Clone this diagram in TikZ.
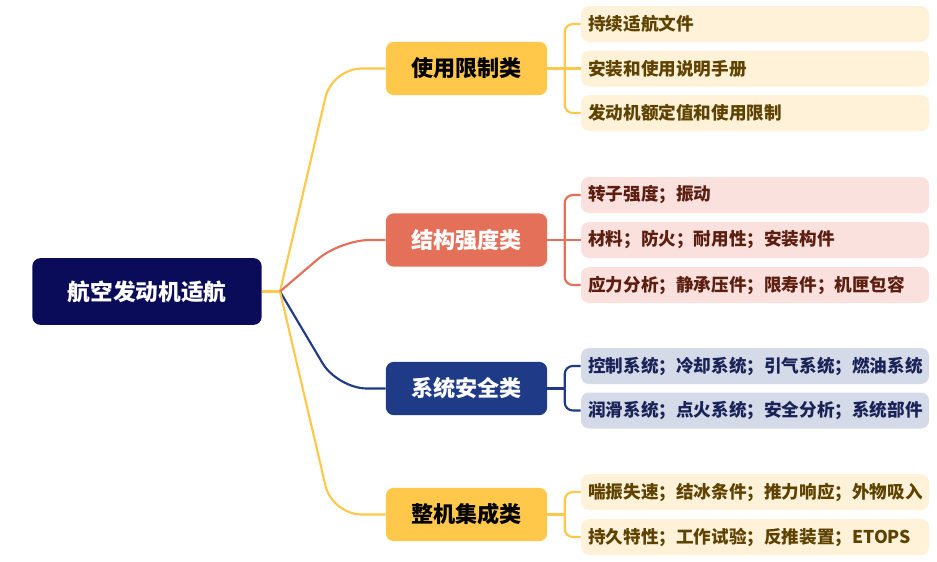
\documentclass[tikz,border=0pt]{standalone}
\usepackage{fontspec}
\setmainfont{Noto Sans CJK SC}
\definecolor{rootblue}{HTML}{0A0C5A}
\definecolor{catyellow}{HTML}{FFC84A}
\definecolor{catred}{HTML}{E5705A}
\definecolor{catblue}{HTML}{1F3B88}
\definecolor{leafyellow}{HTML}{FFF2D9}
\definecolor{leafred}{HTML}{FAE1DD}
\definecolor{leafblue}{HTML}{D5DAE8}
\definecolor{txtyellow}{HTML}{5E4200}
\definecolor{txtred}{HTML}{5C1E10}
\definecolor{txtblue}{HTML}{1A2358}

\tikzset{
  rootbox/.style={fill=rootblue, text=white, rounded corners=6pt,
    minimum width=172pt, minimum height=50pt,
    font=\bfseries\fontsize{17}{20}\selectfont},
  catbox/.style={rounded corners=6pt, minimum width=121pt, minimum height=40pt,
    font=\bfseries\fontsize{16.6}{20}\selectfont},
  leafbox/.style={rounded corners=6pt, minimum height=27pt, text width=250pt,
    align=left, inner xsep=5.5pt, font=\bfseries\fontsize{13.2}{16}\selectfont},
  link/.style={line width=1.6pt},
}

\begin{document}
\begin{tikzpicture}[x=0.75pt,y=-0.75pt,line join=round]
  \useasboundingbox (0,0) rectangle (937,561);
  % 根节点
  \node[rootbox] (root) at (147,291.5) {航空发动机适航};
  \coordinate (hub) at (280,291.5);
  % 四个分类
  \node[catbox,fill=catyellow,text=black] (b1) at (466.5,68.5) {使用限制类};
  \node[catbox,fill=catred,text=white] (b2) at (466.5,240) {结构强度类};
  \node[catbox,fill=catblue,text=white] (b3) at (466.5,388.5) {系统安全类};
  \node[catbox,fill=catyellow,text=black] (b4) at (466.5,514.5) {整机集成类};
  % 使用限制类的条目
  \node[leafbox,fill=leafyellow,text=txtyellow] (l11) at (755,24) {持续适航文件};
  \node[leafbox,fill=leafyellow,text=txtyellow] (l12) at (755,68.5) {安装和使用说明手册};
  \node[leafbox,fill=leafyellow,text=txtyellow] (l13) at (755,113) {发动机额定值和使用限制};
  % 结构强度类的条目
  \node[leafbox,fill=leafred,text=txtred] (l21) at (755,195) {转子强度；振动};
  \node[leafbox,fill=leafred,text=txtred] (l22) at (755,240) {材料；防火；耐用性；安装构件};
  \node[leafbox,fill=leafred,text=txtred] (l23) at (755,285) {应力分析；静承压件；限寿件；机匣包容};
  % 系统安全类的条目
  \node[leafbox,fill=leafblue,text=txtblue] (l31) at (755,366) {控制系统；冷却系统；引气系统；燃油系统};
  \node[leafbox,fill=leafblue,text=txtblue] (l32) at (755,410.5) {润滑系统；点火系统；安全分析；系统部件};
  % 整机集成类的条目
  \node[leafbox,fill=leafyellow,text=txtyellow] (l41) at (755,492) {喘振失速；结冰条件；推力响应；外物吸入};
  \node[leafbox,fill=leafyellow,text=txtyellow] (l42) at (755,537) {持久特性；工作试验；反推装置；ETOPS};
  % 根到分类的连线
  \draw[link,catyellow] (root.east) -- (hub);
  \draw[link,catyellow,rounded corners=22pt] (hub) -- ([xshift=-40pt]b1.west) -- (b1.west);
  \draw[link,catred,rounded corners=22pt] (hub) -- ([xshift=-34pt]b2.west) -- (b2.west);
  \draw[link,catblue,rounded corners=22pt] (hub) -- ([xshift=-36pt]b3.west) -- (b3.west);
  \draw[link,catyellow,rounded corners=22pt] (hub) -- ([xshift=-40pt]b4.west) -- (b4.west);
  % 分类到条目的连线
  \coordinate (j1) at ([xshift=13pt]b1.east);
  \draw[link,catyellow] (b1.east) -- (l12.west);
  \draw[link,catyellow,rounded corners=6pt] (j1) |- (l11.west);
  \draw[link,catyellow,rounded corners=6pt] (j1) |- (l13.west);
  \coordinate (j2) at ([xshift=13pt]b2.east);
  \draw[link,catred] (b2.east) -- (l22.west);
  \draw[link,catred,rounded corners=6pt] (j2) |- (l21.west);
  \draw[link,catred,rounded corners=6pt] (j2) |- (l23.west);
  \coordinate (j3) at ([xshift=13pt]b3.east);
  \draw[link,catblue] (b3.east) -- (j3);
  \draw[link,catblue,rounded corners=6pt] (j3) |- (l31.west);
  \draw[link,catblue,rounded corners=6pt] (j3) |- (l32.west);
  \coordinate (j4) at ([xshift=13pt]b4.east);
  \draw[link,catyellow] (b4.east) -- (j4);
  \draw[link,catyellow,rounded corners=6pt] (j4) |- (l41.west);
  \draw[link,catyellow,rounded corners=6pt] (j4) |- (l42.west);
\end{tikzpicture}
\end{document}
